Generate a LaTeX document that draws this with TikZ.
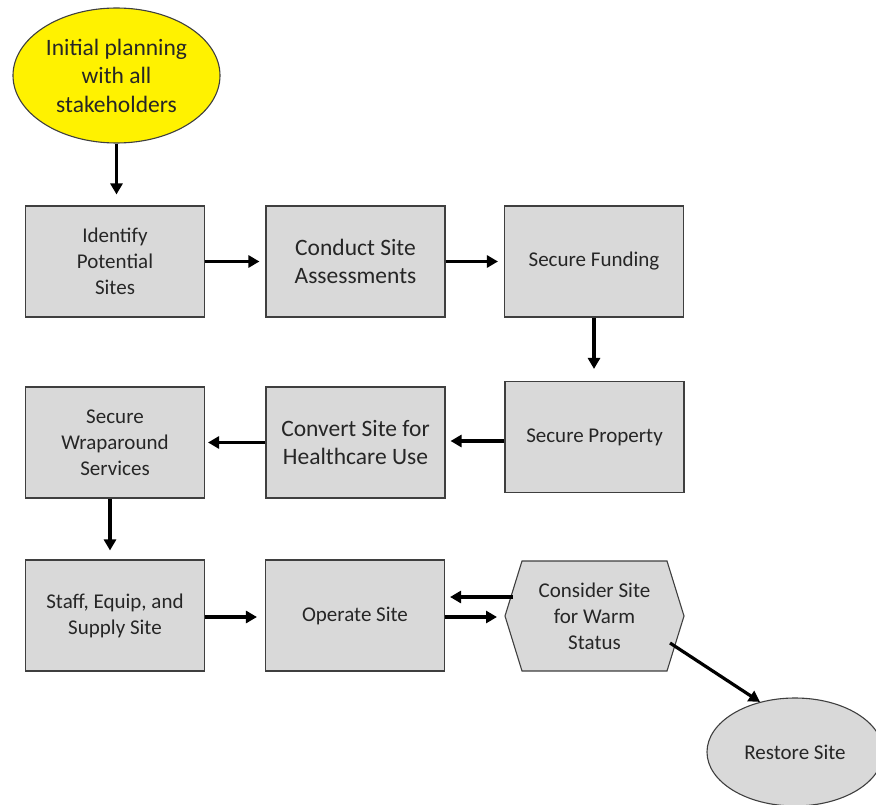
\documentclass[tikz,border=0pt]{standalone}
\usepackage{fontspec}
\setmainfont{Carlito}
\usetikzlibrary{arrows.meta,shapes.geometric}
\definecolor{boxfill}{HTML}{D9D9D9}
\definecolor{boxline}{HTML}{3F3F3F}
\definecolor{txtc}{HTML}{262626}
\begin{document}
\begin{tikzpicture}[x=1pt,y=-1pt,
  base/.style={draw=boxline,line width=1.1pt,fill=boxfill,text=txtc,align=center,
    font=\fontsize{21}{26}\selectfont,inner sep=0pt},
  stepbox/.style={base,rectangle,minimum width=179pt,minimum height=111pt},
  bigtext/.style={font=\fontsize{23.5}{28.5}\selectfont},
  arr/.style={line width=3.2pt,-{Triangle[length=11pt,width=12pt]}}]
\useasboundingbox (0,0) rectangle (876,805);
% start ellipse
\node[base,ellipse,fill=yellow,minimum width=207pt,minimum height=135pt,bigtext] (init) at (116.5,75.5) {Initial planning\\with all\\stakeholders};
% row 1
\node[stepbox] (ident) at (115,261.5) {Identify\\Potential\\Sites};
\node[stepbox,bigtext] (conduct) at (355.5,261.5) {Conduct Site\\Assessments};
\node[stepbox] (fund) at (594,261.5) {Secure Funding};
% row 2
\node[stepbox] (prop) at (594.5,437) {Secure Property};
\node[stepbox,bigtext] (convert) at (355.5,442.5) {Convert Site for\\Healthcare Use};
\node[stepbox] (wrap) at (115,442.5) {Secure\\Wraparound\\Services};
% row 3
\node[stepbox] (staff) at (115,615.5) {Staff, Equip, and\\Supply Site};
\node[stepbox] (operate) at (355,615.5) {Operate Site};
% hexagon
\filldraw[draw=boxline,line width=1.1pt,fill=boxfill] (505,616) -- (522,561) -- (667,561) -- (684,616) -- (667,671) -- (522,671) -- cycle;
\coordinate (hxW) at (505,616);
\coordinate (hxA) at (513,597);
\coordinate (hxR) at (670,643);
\node[text=txtc,align=center,font=\fontsize{21}{26}\selectfont,inner sep=0pt] (hex) at (594.5,616) {Consider Site\\for Warm\\Status};
% restore ellipse
\node[base,ellipse,minimum width=176pt,minimum height=108pt] (restore) at (795,752) {Restore Site};
% connectors
\draw[arr,shorten >=11pt] (init.south) -- (init.south |- ident.north);
\draw[arr,shorten >=6pt] (ident.east) -- (conduct.west);
\draw[arr,shorten >=6pt] (conduct.east) -- (fund.west);
\draw[arr,shorten >=12pt] (fund.south) -- (fund.south |- prop.north);
\draw[arr,shorten >=5pt] ([yshift=-4pt]prop.west) -- ([yshift=-4pt]prop.west -| convert.east);
\draw[arr,shorten >=3pt] (convert.west) -- (wrap.east);
\draw[arr,shorten >=9pt] ([xshift=-5pt]wrap.south) -- ([xshift=-5pt]wrap.south |- staff.north);
\draw[arr,shorten >=8pt] ([yshift=-1.5pt]staff.east) -- ([yshift=-1.5pt]operate.west);
\draw[arr,shorten >=8pt] ([yshift=-1.5pt]operate.east) -- ([yshift=-1.5pt]operate.east -| hxW);
\draw[arr,shorten >=5pt] (hxA) -- (hxA -| operate.east);
\draw[arr] (hxR) -- (restore.125);
\end{tikzpicture}
\end{document}
